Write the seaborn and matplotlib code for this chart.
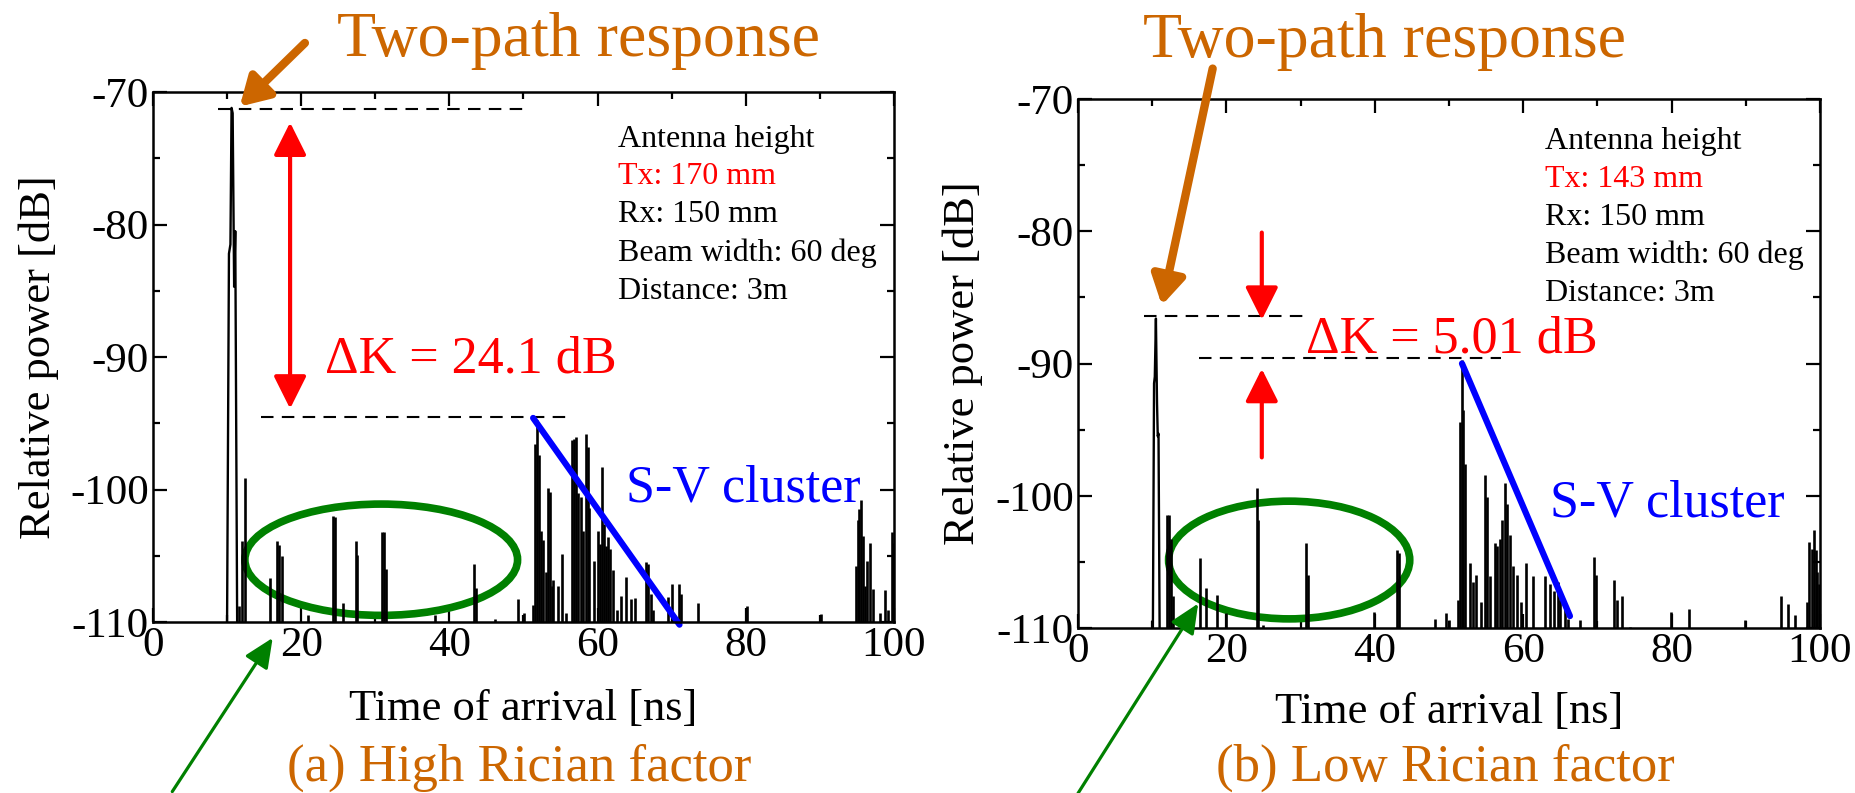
import matplotlib
matplotlib.use("Agg")
import matplotlib.pyplot as plt
from matplotlib.patches import Ellipse
from matplotlib.ticker import MultipleLocator
import seaborn as sns

# ---------------- data ----------------
x_ticks = [0, 20, 40, 60, 80, 100]
y_ticks = [-110, -100, -90, -80, -70]

# (a) high Rician factor : main (two-path) peak trace
t_a_main = [9.95, 10.25, 10.45, 10.6, 10.75, 10.95, 11.1, 11.4]
p_a_main = [-115, -82.2, -81.5, -71.2, -71.6, -84.7, -80.5, -115]
# (a) other multipath impulses
t_a_spk = [11.65, 12.05, 12.35, 15.8, 16.8, 17.05, 17.4, 20.96, 24.3, 24.56, 25.6,
           27.35, 27.57, 30.86, 31.2, 31.4, 38.1, 43.3, 43.6, 46.2, 49.2, 50.07,
           51.24, 51.55, 51.86, 52.1, 52.36, 52.67, 53.0, 53.35, 53.6, 53.8, 54.0,
           54.7, 55.15, 55.8, 56.6, 56.8, 57.1, 57.4, 57.7, 58.05, 58.4, 58.65, 58.9,
           59.55, 60.0, 60.3, 60.6, 60.9, 61.1, 61.4, 61.7, 62.1, 62.6, 63.1,
           63.9, 64.5, 65.0, 66.5, 66.85, 67.2, 67.5, 69.55, 70.0, 71.0, 71.3,
           73.6, 80.1, 90.1, 94.87, 95.1, 95.3, 95.5, 95.8, 96.1, 96.4, 96.8, 97.1,
           98.1, 98.8, 99.15, 99.7, 99.9]
p_a_spk = [-108.8, -103.9, -99.1, -106.7, -103.9, -104.2, -105.0, -109.5, -102.0, -102.1, -108.6,
           -103.9, -104.95, -103.2, -103.2, -106.0, -109.5, -105.6, -107.4, -109.8, -108.3, -109.3,
           -108.7, -96.6, -94.75, -97.4, -103.1, -103.8, -106.2, -99.9, -100.2, -107.3, -106.8,
           -107.3, -104.9, -109.3, -96.3, -96.2, -96.0, -100.3, -100.6, -103.1, -95.8, -96.8, -101.4,
           -105.4, -103.1, -104.1, -98.3, -102.6, -104.3, -103.6, -104.5, -106.1, -109.1, -108.0,
           -106.6, -108.3, -108.2, -105.45, -105.6, -107.9, -109.1, -108.1, -107.1, -107.1, -107.9,
           -108.6, -108.8, -109.4, -105.8, -102.3, -101.5, -100.8, -103.5, -107.3, -105.4, -104.0, -107.5,
           -109.3, -107.6, -109.1, -103.2, -104.0]

# (b) low Rician factor
t_b_main = [10.05, 10.25, 10.35, 10.5, 10.65, 10.75, 10.85, 11.05]
p_b_main = [-115, -91.5, -91.0, -86.6, -93.0, -95.5, -95.3, -115]
t_b_spk = [9.93, 12.04, 12.3, 12.5, 12.75, 16.44, 17.3, 18.7, 19.95, 24.08, 24.3, 24.97,
           30.73, 31.04, 39.9, 43.0, 43.3, 48.1, 49.55, 50.0, 51.26, 51.5, 51.7, 51.93, 52.16,
           52.8, 53.27, 53.7, 54.27, 54.85, 55.16, 55.5, 56.2, 56.5, 56.9, 57.2, 57.6, 57.85,
           58.2, 58.66, 59.2, 59.66, 60.4, 61.35, 62.94, 63.57, 64.1, 64.7, 64.9, 65.7, 66.1,
           67.65, 69.54, 69.77, 72.2, 72.6, 73.3, 74.4, 79.9, 82.35, 89.9, 94.8, 95.7, 96.6,
           98.2, 98.55, 98.87, 99.2, 99.4, 99.6, 99.8]
p_b_spk = [-109.4, -101.45, -101.45, -103.3, -107.6, -104.7, -107.0, -107.5, -108.9, -99.4, -101.8, -109.8,
           -103.6, -106.0, -108.8, -104.1, -104.3, -109.3, -108.9, -109.4, -107.9, -94.4, -89.7, -93.5, -97.6,
           -105.1, -106.5, -106.0, -108.0, -98.4, -100.1, -106.1, -103.6, -103.8, -103.3, -101.8, -99.0, -100.6,
           -103.0, -105.3, -106.0, -108.0, -105.1, -106.1, -106.1, -106.7, -107.2, -106.5, -107.9, -108.1, -109.3,
           -109.4, -104.65, -106.0, -106.4, -107.9, -107.6, -109.9, -108.8, -108.6, -109.4, -107.6, -108.2, -109.0,
           -108.0, -103.5, -104.0, -102.6, -104.1, -105.8, -106.7]

# reference levels (dashed), S-V decay lines
lvl_a = [-71.3, -94.5]
lvl_b = [-86.4, -89.6]
sv_a_t = [51.3, 71.05]
sv_a_p = [-94.6, -110.2]
sv_b_t = [51.75, 66.3]
sv_b_p = [-90.0, -109.1]

legend_lines = ["Antenna height", "Tx: 170 mm", "Rx: 150 mm", "Beam width: 60 deg", "Distance: 3m"]
legend_lines_b = ["Antenna height", "Tx: 143 mm", "Rx: 150 mm", "Beam width: 60 deg", "Distance: 3m"]
dk_a = "\u0394K = 24.1 dB"
dk_b = "\u0394K = 5.01 dB"
caption_a = "(a) High Rician factor"
caption_b = "(b) Low Rician factor"

# ---------------- style ----------------
sns.set_style("ticks")
plt.rcParams["font.family"] = ["Liberation Serif", "DejaVu Serif"]
plt.rcParams["axes.unicode_minus"] = False

ORANGE = "#CC6600"
RED = "#FF0000"
BLUE = "#0000FF"
GREEN = "#008000"

W, H = 1856, 793
fig = plt.figure(figsize=(W / 100, H / 100), dpi=100)
axA = fig.add_axes([153 / W, 1 - 622 / H, 741 / W, 530 / H])
axB = fig.add_axes([1078 / W, 1 - 628 / H, 742 / W, 529 / H])


def style_axes(ax):
    ax.set_xlim(0, 100)
    ax.set_ylim(-110, -70)
    ax.set_xticks(x_ticks)
    ax.set_xticklabels([str(v) for v in x_ticks])
    ax.set_yticks(y_ticks)
    ax.set_yticklabels([str(v) for v in y_ticks])
    ax.xaxis.set_minor_locator(MultipleLocator(10))
    ax.yaxis.set_minor_locator(MultipleLocator(5))
    ax.tick_params(which="both", direction="in", top=True, right=True,
                   width=1.6, color="black")
    ax.tick_params(which="major", length=10)
    ax.tick_params(which="minor", length=5)
    ax.tick_params(axis="both", which="major", labelsize=31, labelcolor="black")
    ax.tick_params(axis="x", which="major", pad=3)
    ax.tick_params(axis="y", which="major", pad=3)
    for s in ax.spines.values():
        s.set_linewidth(1.8)
        s.set_color("black")
    ax.set_xlabel("Time of arrival [ns]", fontsize=32, color="black")
    ax.set_ylabel("Relative power [dB]", fontsize=32, color="black")
    ax.xaxis.label.set_va("baseline")
    ax.yaxis.label.set_va("baseline")
    ax.grid(False)


def draw_trace(ax, tm, pm, ts, ps):
    sns.lineplot(x=tm, y=pm, ax=ax, color="black", lw=1.7, sort=False, estimator=None)
    ax.vlines(ts, -112, ps, color="black", lw=1.9)


def arrow(ax, head, tail, color, lw, hl, hw, ms=20, style="-|>"):
    ax.annotate("", xy=head, xytext=tail, xycoords="data", textcoords="data",
                annotation_clip=False,
                arrowprops=dict(arrowstyle=f"{style},head_length={hl},head_width={hw}",
                                color=color, lw=lw, mutation_scale=ms,
                                shrinkA=0, shrinkB=0))


# ---------------- panel (a) ----------------
ax = axA
style_axes(ax)
draw_trace(ax, t_a_main, p_a_main, t_a_spk, p_a_spk)
ax.plot([8.8, 50.6], [lvl_a[0]] * 2, color="black", lw=1.5, ls=(0, (6, 4)))
ax.plot([14.6, 56.5], [lvl_a[1]] * 2, color="black", lw=1.5, ls=(0, (6, 4)))
sns.lineplot(x=sv_a_t, y=sv_a_p, ax=ax, color=BLUE, lw=4.5, sort=False, estimator=None)
ax.lines[-1].set_clip_on(False)
arrow(ax, (18.5, -72.3), (18.5, -93.9), RED, 3, 1.0, 0.5, 20, "<|-|>")
arrow(ax, (11.7, -71.1), (20.5, -66.3), ORANGE, 6, 0.85, 0.5, 20)
arrow(ax, (16.15, -111.2), (2.6, -122.8), GREEN, 2.3, 1.0, 0.45, 18)
ax.add_patch(Ellipse((30.8, -105.3), 36.8, 8.4, fill=False, edgecolor=GREEN,
                     lw=5.5, clip_on=False))
ax.text(23.2, -91.2, dk_a, color=RED, fontsize=37.5, ha="left", va="baseline")
ax.text(63.9, -100.9, "S-V cluster", color=BLUE, fontsize=37.5, ha="left", va="baseline")
ys_a = [0.896, 0.827, 0.7555, 0.681, 0.609]
for line, yy in zip(legend_lines, ys_a):
    ax.text(0.6275, yy, line, transform=ax.transAxes, fontsize=23,
            color=RED if line.startswith("Tx") else "black", ha="left", va="baseline")
ax.xaxis.set_label_coords(0.5, -0.185)
ax.yaxis.set_label_coords(-0.139, 0.5)

# ---------------- panel (b) ----------------
ax = axB
style_axes(ax)
draw_trace(ax, t_b_main, p_b_main, t_b_spk, p_b_spk)
ax.plot([8.9, 30.4], [lvl_b[0]] * 2, color="black", lw=1.5, ls=(0, (6, 4)))
ax.plot([16.3, 57.0], [lvl_b[1]] * 2, color="black", lw=1.5, ls=(0, (6, 4)))
sns.lineplot(x=sv_b_t, y=sv_b_p, ax=ax, color=BLUE, lw=4.5, sort=False, estimator=None)
arrow(ax, (24.77, -86.7), (24.77, -80.1), RED, 3, 1.0, 0.5, 20)
arrow(ax, (24.77, -90.4), (24.77, -97.1), RED, 3, 1.0, 0.5, 20)
arrow(ax, (11.3, -85.6), (18.15, -67.7), ORANGE, 6, 0.85, 0.5, 20)
arrow(ax, (16.2, -108.15), (0.0, -122.5), GREEN, 2.3, 1.0, 0.45, 18)
ax.add_patch(Ellipse((28.46, -104.86), 32.5, 8.9, fill=False, edgecolor=GREEN,
                     lw=5.5, clip_on=False))
ax.text(30.7, -89.17, dk_b, color=RED, fontsize=37.5, ha="left", va="baseline")
ax.text(63.6, -101.57, "S-V cluster", color=BLUE, fontsize=37.5, ha="left", va="baseline")
ys_b = [0.905, 0.8333, 0.7618, 0.690, 0.6181]
for line, yy in zip(legend_lines_b, ys_b):
    ax.text(0.6294, yy, line, transform=ax.transAxes, fontsize=23,
            color=RED if line.startswith("Tx") else "black", ha="left", va="baseline")
ax.xaxis.set_label_coords(0.5, -0.1796)
ax.yaxis.set_label_coords(-0.1396, 0.5)

# ---------------- figure-level texts ----------------
fig.text(337 / W, 1 - 56 / H, "Two-path response", fontsize=46, color=ORANGE,
         ha="left", va="baseline")
fig.text(1143 / W, 1 - 57 / H, "Two-path response", fontsize=46, color=ORANGE,
         ha="left", va="baseline")
fig.text(519.5 / W, 1 - 781 / H, caption_a, fontsize=38, color=ORANGE,
         ha="center", va="baseline")
fig.text(1445 / W, 1 - 781 / H, caption_b, fontsize=38, color=ORANGE,
         ha="center", va="baseline")

fig.savefig("out.png", dpi=100, facecolor="white")
